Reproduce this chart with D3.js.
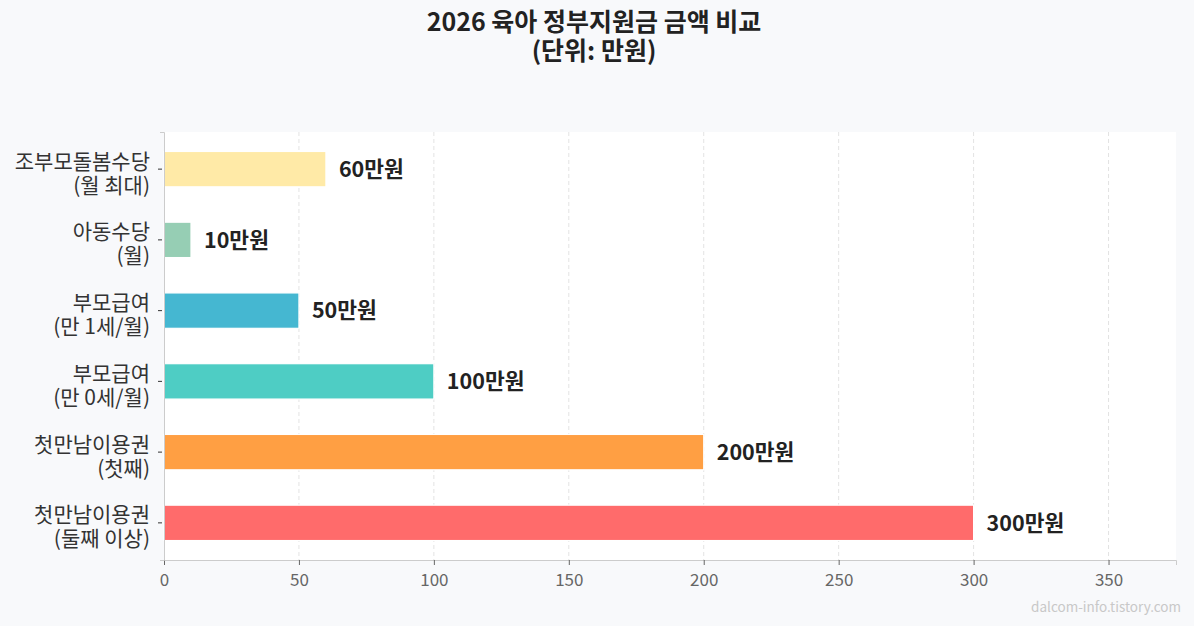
<!DOCTYPE html>
<html>
<head>
<meta charset="utf-8">
<script src="https://cdn.jsdelivr.net/npm/d3@7"></script>
<style>
  html, body { margin: 0; padding: 0; background: #f8f9fb; }
  svg { display: block; font-family: "Noto Sans CJK KR", "Noto Sans", sans-serif; }
</style>
</head>
<body>
<div id="chart"></div>
<script>
// data, top to bottom
const labels = [
    ['조부모돌봄수당', '(월 최대)'],
    ['아동수당', '(월)'],
    ['부모급여', '(만 1세/월)'],
    ['부모급여', '(만 0세/월)'],
    ['첫만남이용권', '(첫째)'],
    ['첫만남이용권', '(둘째 이상)']
]
const amounts = [60, 10, 50, 100, 200, 300]
const colors = ['#FFEAA7', '#96CEB4', '#45B7D1', '#4ECDC4', '#FF9F43', '#FF6B6B']
const xTicks = [0, 50, 100, 150, 200, 250, 300, 350]

const width = 1194
const height = 626
const margin = { top: 132, right: 18, bottom: 66, left: 164 }
const font = '"Noto Sans CJK KR", "Noto Sans", sans-serif'

const svg = d3.select('#chart').append('svg')
    .attr('width', width)
    .attr('height', height)

svg.append('rect').attr('width', width).attr('height', height).attr('fill', '#f8f9fb')

const x = d3.scaleLinear()
    .domain([0, 375])
    .range([margin.left, width - margin.right])

const y = d3.scaleBand()
    .domain(d3.range(labels.length))
    .range([margin.top, height - margin.bottom])
    .paddingInner(0.5)
    .paddingOuter(0.275)

// plot background
svg.append('rect')
    .attr('x', margin.left)
    .attr('y', margin.top)
    .attr('width', width - margin.right - margin.left)
    .attr('height', height - margin.bottom - margin.top)
    .attr('fill', '#ffffff')

// grid
svg.append('g')
    .selectAll('line')
    .data(xTicks.slice(1))
    .join('line')
    .attr('x1', d => x(d))
    .attr('x2', d => x(d))
    .attr('y1', margin.top)
    .attr('y2', height - margin.bottom)
    .attr('stroke', '#e3e3e3')
    .attr('stroke-width', 1)
    .attr('stroke-dasharray', '4,3')

// bars
svg.append('g')
    .selectAll('rect')
    .data(amounts)
    .join('rect')
    .attr('x', x(0))
    .attr('y', (d, i) => y(i))
    .attr('width', d => x(d) - x(0))
    .attr('height', y.bandwidth())
    .attr('fill', (d, i) => colors[i])
    .attr('stroke', '#ffffff')
    .attr('stroke-width', 1.2)

// value labels
svg.append('g')
    .selectAll('text')
    .data(amounts)
    .join('text')
    .attr('x', d => x(d) + 13)
    .attr('y', (d, i) => y(i) + y.bandwidth() / 2)
    .attr('dy', '0.36em')
    .attr('font-size', 21.5)
    .attr('font-weight', 'bold')
    .attr('fill', '#222')
    .text(d => d + '만원')

// x axis
const xAxis = svg.append('g')
    .attr('transform', `translate(0,${height - margin.bottom})`)
    .call(d3.axisBottom(x).tickValues(xTicks).tickSize(5).tickPadding(9))
xAxis.select('.domain').attr('stroke', '#cccccc')
xAxis.selectAll('.tick line').attr('stroke', '#666')
xAxis.selectAll('.tick text')
    .attr('font-size', 17)
    .attr('fill', '#666')
    .attr('font-family', font)

// y axis, two-line labels as separate texts
const yAxis = svg.append('g')
    .attr('transform', `translate(${margin.left},0)`)
    .call(d3.axisLeft(y).tickSize(4).tickPadding(10).tickFormat(''))
yAxis.select('.domain').attr('stroke', '#cccccc')
yAxis.selectAll('.tick line').attr('stroke', '#333').attr('transform', 'translate(-2,0)')
yAxis.selectAll('.tick').each(function (d) {
    const g = d3.select(this)
    g.append('text')
        .attr('x', -14).attr('y', -8).attr('dy', '0.36em')
        .attr('text-anchor', 'end')
        .attr('font-size', 21)
        .attr('fill', '#333')
        .attr('font-family', font)
        .text(labels[d][0])
    g.append('text')
        .attr('x', -14).attr('y', 16).attr('dy', '0.36em')
        .attr('text-anchor', 'end')
        .attr('font-size', 21)
        .attr('fill', '#333')
        .attr('font-family', font)
        .text(labels[d][1])
})

// title
const title = svg.append('text')
    .attr('text-anchor', 'middle')
    .attr('font-size', 25)
    .attr('font-weight', 'bold')
    .attr('fill', '#222')
title.append('tspan').attr('x', 594).attr('y', 31).text('2026 육아 정부지원금 금액 비교')
title.append('tspan').attr('x', 594).attr('y', 60).text('(단위: 만원)')

// watermark
svg.append('text')
    .attr('x', 1181)
    .attr('y', 612)
    .attr('text-anchor', 'end')
    .attr('font-size', 13.5)
    .attr('fill', '#c8c8c8')
    .attr('font-family', font)
    .text('dalcom-info.tistory.com')
</script>
</body>
</html>
